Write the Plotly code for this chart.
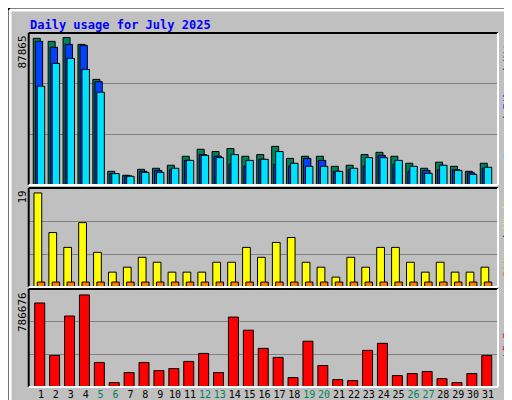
import plotly.graph_objects as go

days = list(range(1, 32))
weekend = {5, 6, 12, 13, 19, 20, 26, 27}

hits_max = 87865
kb_max = 786676

# fractions of the top scale
hits = [0.965, 0.945, 0.97, 0.925, 0.695, 0.09, 0.064, 0.103, 0.11, 0.13,
        0.189, 0.235, 0.22, 0.24, 0.189, 0.2, 0.254, 0.175, 0.189, 0.189,
        0.123, 0.13, 0.2, 0.215, 0.189, 0.143, 0.11, 0.15, 0.123, 0.09, 0.143]
files = [0.945, 0.906, 0.925, 0.919, 0.68, 0.075, 0.06, 0.09, 0.096, 0.1,
         0.162, 0.2, 0.19, 0.136, 0.125, 0.169, 0.136, 0.125, 0.175, 0.162,
         0.09, 0.1, 0.125, 0.195, 0.136, 0.09, 0.096, 0.1, 0.1, 0.08, 0.11]
pages = [0.65, 0.80, 0.833, 0.76, 0.61, 0.075, 0.057, 0.083, 0.083, 0.11,
         0.162, 0.195, 0.18, 0.2, 0.162, 0.169, 0.22, 0.143, 0.123, 0.123,
         0.09, 0.11, 0.18, 0.18, 0.162, 0.123, 0.077, 0.13, 0.096, 0.07, 0.117]
visits = [19, 11, 8, 13, 7, 3, 4, 6, 5, 3, 3, 3, 5, 5, 8, 6, 9, 10, 5, 4,
          2, 6, 4, 8, 8, 5, 3, 5, 3, 3, 4]
sites = [1] * 31
kbytes = [0.883, 0.332, 0.746, 0.968, 0.258, 0.046, 0.152, 0.258, 0.173, 0.194,
          0.269, 0.353, 0.152, 0.735, 0.597, 0.406, 0.311, 0.099, 0.481, 0.226,
          0.078, 0.067, 0.385, 0.459, 0.12, 0.141, 0.163, 0.088, 0.046, 0.141, 0.332]

GREEN = "#00805c"
BLUE = "#0040ff"
CYAN = "#00e0ff"
YELLOW = "#ffff00"
ORANGE = "#ff8000"
RED = "#ff0000"
FONT = "DejaVu Sans Mono"

fig = go.Figure()
line = dict(color="black", width=1)


def bars(vals, color, yaxis, offset, width):
    fig.add_trace(go.Bar(x=days, y=vals, offset=offset, width=width,
                         marker=dict(color=color, line=line),
                         yaxis=yaxis, xaxis="x", showlegend=False))


bars([v * hits_max for v in hits], GREEN, "y", -0.52, 0.47)
bars([v * hits_max for v in files], BLUE, "y", -0.38, 0.49)
bars([v * hits_max for v in pages], CYAN, "y", -0.25, 0.5)
bars(visits, YELLOW, "y2", -0.47, 0.52)
bars(sites, ORANGE, "y2", -0.25, 0.5)
bars([v * kb_max for v in kbytes], RED, "y3", -0.42, 0.67)

H = 400.0
dom_x = [20.7 / 512, 490 / 512]
panels = [(25, 177, hits_max * 1.0, "y"), (180, 279, 20.0, "y2"),
          (281, 379, kb_max * 1.03, "y3")]
for i, (top, bot, rmax, name) in enumerate(panels):
    key = "yaxis" if i == 0 else "yaxis%d" % (i + 1)
    fig.layout[key] = dict(domain=[1 - bot / H, 1 - top / H], range=[0, rmax],
                           tickvals=[rmax / 3, 2 * rmax / 3], showticklabels=False,
                           gridcolor="#808080", gridwidth=1, zeroline=False,
                           fixedrange=True, anchor="x")
    x0, x1 = dom_x
    y0, y1 = 1 - bot / H, 1 - top / H
    for (a, b, c, d, col) in [(x0, y1, x1, y1, "black"), (x0, y0, x0, y1, "black"),
                              (x0, y0, x1, y0, "white"), (x1, y0, x1, y1, "white")]:
        fig.add_shape(type="line", xref="paper", yref="paper", x0=a, y0=b, x1=c, y1=d,
                      line=dict(color=col, width=2))

tick_text = ['<span style="color:%s">%d</span>' % (GREEN if d in weekend else "black", d)
             for d in days]
fig.update_layout(
    xaxis=dict(domain=dom_x, range=[0.175, 31.67], tickvals=days, ticktext=tick_text,
               showgrid=False, zeroline=False, ticks="", fixedrange=True, anchor="y3",
               tickangle=0, ticklen=0,
               tickfont=dict(family=FONT, size=10, color="black")),
    barmode="overlay",
    width=512, height=400,
    margin=dict(l=0, r=0, t=0, b=0),
    paper_bgcolor="#c0c0c0", plot_bgcolor="#c0c0c0",
    font=dict(family=FONT, size=11),
)

# outer bevelled frame
fig.add_shape(type="rect", xref="paper", yref="paper", x0=0, y0=0, x1=1, y1=1,
              line=dict(color="black", width=2))
fig.add_shape(type="line", xref="paper", yref="paper", x0=0.004, y0=0.005, x1=0.004, y1=0.995,
              line=dict(color="white", width=3))
fig.add_shape(type="line", xref="paper", yref="paper", x0=0.004, y0=0.995, x1=0.99, y1=0.995,
              line=dict(color="white", width=3))
fig.add_shape(type="line", xref="paper", yref="paper", x0=0.992, y0=0.005, x1=0.992, y1=0.995,
              line=dict(color="#808080", width=4))
fig.add_shape(type="line", xref="paper", yref="paper", x0=0.004, y0=0.008, x1=0.995, y1=0.008,
              line=dict(color="#808080", width=4))

fig.add_annotation(text="<b>Daily usage for July 2025</b>", xref="paper", yref="paper",
                   x=20 / 512, y=1 - 8 / H, xanchor="left", yanchor="top", showarrow=False,
                   font=dict(family=FONT, size=12, color="#0000ff"))

left_labels = [("87865", 25), ("19", 180), ("786676", 281)]
for txt, top in left_labels:
    fig.add_annotation(text=txt, textangle=-90, xref="paper", yref="paper",
                       x=14 / 512, y=1 - (top + 1) / H, xanchor="center", yanchor="top",
                       showarrow=False, font=dict(family=FONT, size=11, color="black"))

right_labels = [
    ('<span style="color:%s">Pages</span> / <span style="color:%s">Files</span> / '
     '<span style="color:%s">Hits</span>' % (CYAN, BLUE, GREEN), 25),
    ('<span style="color:%s">Sites</span> / <span style="color:%s">Visits</span>'
     % (ORANGE, YELLOW), 180),
    ('<span style="color:%s">kB F</span>' % RED, 320),
]
for txt, top in right_labels:
    fig.add_annotation(text=txt, textangle=-90, xref="paper", yref="paper",
                       x=499 / 512, y=1 - (top + 3) / H, xanchor="center", yanchor="top",
                       showarrow=False, font=dict(family=FONT, size=10, color="black"))

fig.write_html("out.html")
